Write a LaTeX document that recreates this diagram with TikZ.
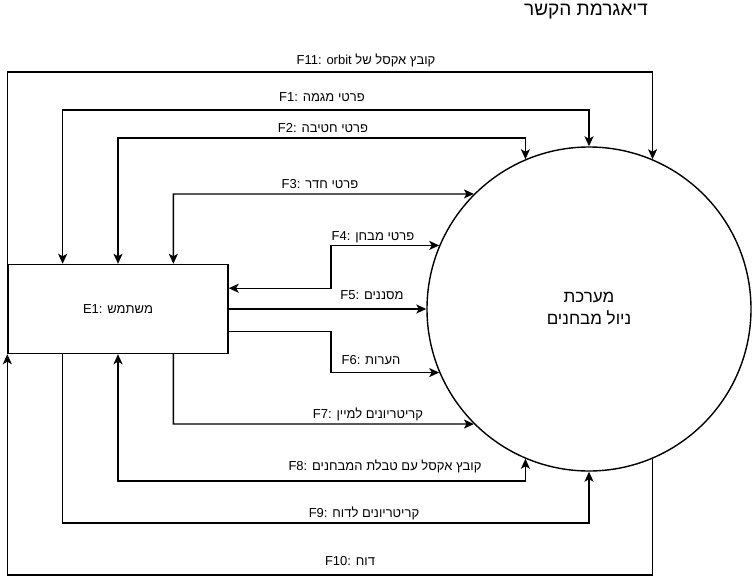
\documentclass[tikz,border=0pt]{standalone}
\usepackage{fontspec}
\setmainfont{Liberation Sans}
\newfontfamily\hebfont[Script=Hebrew]{Liberation Sans}
\TeXXeTstate=1
\newcommand{\heb}[1]{{\hebfont\beginR #1\endR}}
\usetikzlibrary{arrows.meta,calc}
\begin{document}
\begin{tikzpicture}[x=1pt,y=-1pt,line width=1.4pt,line join=miter]
% Styles
\tikzstyle{entity}=[draw,minimum width=220pt,minimum height=89pt,inner sep=0pt,font=\fontsize{13}{15}\selectfont]
\tikzstyle{process}=[draw,circle,minimum size=324pt,inner sep=0pt,font=\fontsize{17}{22}\selectfont,align=center]
\tikzstyle{flow}=[-{Stealth[length=10pt,width=9pt,inset=2.5pt]}]
\tikzstyle{twoway}=[{Stealth[length=10pt,width=9pt,inset=2.5pt]}-{Stealth[length=10pt,width=9pt,inset=2.5pt]}]
\tikzstyle{back}=[{Stealth[length=10pt,width=9pt,inset=2.5pt]}-]
\tikzstyle{flow text}=[inner sep=0pt,font=\fontsize{13}{15}\selectfont]

\useasboundingbox (0,0) rectangle (756,578);

% title
\node[inner sep=0pt,font=\fontsize{19}{22}\selectfont] (title) at (586,12) {\heb{דיאגרמת הקשר}};

% draw the nodes
\node[entity] (user) at (118,309) {E1: \heb{משתמש}};
\node[process] (sys) at (589,309) {\heb{מערכת}\\\heb{ניול מבחנים}};

% points on the box
\coordinate (top1) at ($(user.north west)!0.25!(user.north east)$);
\coordinate (top3) at ($(user.north west)!0.75!(user.north east)$);
\coordinate (bot1) at ($(user.south west)!0.25!(user.south east)$);
\coordinate (bot3) at ($(user.south west)!0.75!(user.south east)$);
\coordinate (side1) at ($(user.north east)!0.27!(user.south east)$);
\coordinate (side3) at ($(user.north east)!0.75!(user.south east)$);

%upper flows
\draw[flow] (user.north west) -- (user.north west |- 0,72) -| (sys.67);
\draw[twoway] (top1) -- (top1 |- 0,110) -| (sys.north);
\draw[twoway] (user.north) -- (user.north |- 0,138) -| (sys.113);
\draw[twoway] (top3) -- (top3 |- 0,194) -- (sys.135);

%side flows
\draw[twoway] (side1) -- (side1 -| 331,0) |- (sys.157);
\draw[flow] (user.east) -- (sys.west);
\draw[flow] (side3) -- (side3 -| 331,0) |- (sys.203);

%lower flows
\draw[flow] (bot3) -- (bot3 |- 0,424) -- (sys.225);
\draw[twoway] (user.south) -- (user.south |- 0,481) -| (sys.247);
\draw[flow] (bot1) -- (bot1 |- 0,523) -| (sys.south);
\draw[back] (user.south west) -- (user.south west |- 0,575) -| (sys.293);

% labels
\node[flow text] (t11) at (366,60) {F11: orbit \heb{קובץ אקסל של}};
\node[flow text] (t1) at (322,97) {F1: \heb{פרטי מגמה}};
\node[flow text] (t2) at (323,128) {F2: \heb{פרטי חטיבה}};
\node[flow text] (t3) at (320,184) {F3: \heb{פרטי חדר}};
\node[flow text] (t4) at (373,237) {F4: \heb{פרטי מבחן}};
\node[flow text] (t5) at (372,295) {F5: \heb{מסננים}};
\node[flow text] (t6) at (371,360) {F6: \heb{הערות}};
\node[flow text] (t7) at (368,414) {F7: \heb{קריטריונים למיין}};
\node[flow text] (t8) at (385,466) {F8: \heb{קובץ אקסל עם טבלת המבחנים}};
\node[flow text] (t9) at (364,513) {F9: \heb{קריטריונים לדוח}};
\node[flow text] (t10) at (350,561) {F10: \heb{דוח}};

\end{tikzpicture}
\end{document}
